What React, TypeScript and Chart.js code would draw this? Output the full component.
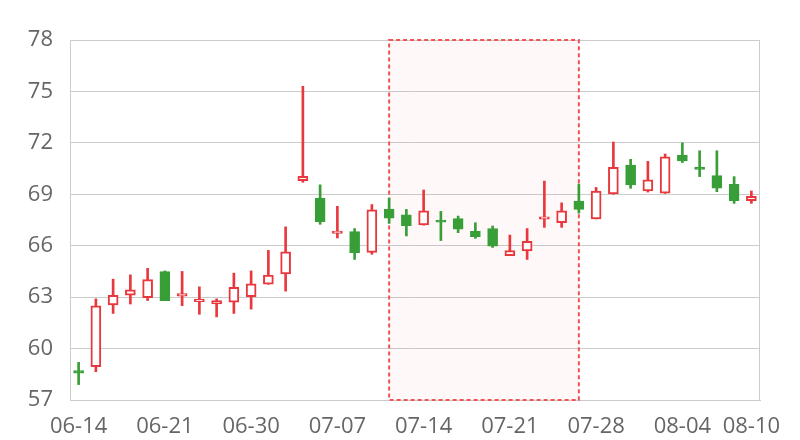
import React, { useEffect, useRef } from "react";
import { Chart, registerables } from "chart.js";

Chart.register(...registerables);

const dates = [
  "06-14", "06-17", "06-18", "06-19", "06-20", "06-21", "06-24", "06-25", "06-26", "06-27",
  "06-30", "07-01", "07-02", "07-03", "07-04", "07-07", "07-08", "07-09", "07-10", "07-11",
  "07-14", "07-15", "07-16", "07-17", "07-18", "07-21", "07-22", "07-23", "07-24", "07-25",
  "07-28", "07-29", "07-30", "07-31", "08-01", "08-04", "08-05", "08-06", "08-07", "08-10",
];
const shownTickLabels = ["06-14", "06-21", "06-30", "07-07", "07-14", "07-21", "07-28", "08-04", "08-10"];

const openValues = [
  58.72, 58.95, 62.55, 63.12, 62.97, 64.49, 63.05, 62.74, 62.6, 62.7,
  63.03, 63.75, 64.35, 69.8, 68.77, 66.72, 66.82, 65.61, 68.12, 67.8,
  67.21, 67.49, 67.58, 66.84, 67.0, 65.42, 65.69, 67.55, 67.34, 68.61,
  67.56, 69.02, 70.71, 69.19, 69.06, 71.29, 70.59, 70.09, 69.58, 68.63,
];
const closeValues = [
  58.56, 62.5, 63.1, 63.42, 64.02, 62.8, 63.21, 62.88, 62.8, 63.57,
  63.77, 64.29, 65.65, 70.05, 67.4, 66.86, 65.6, 68.1, 67.6, 67.17,
  68.04, 67.38, 66.96, 66.53, 65.98, 65.71, 66.26, 67.69, 68.04, 68.12,
  69.19, 70.57, 69.54, 69.85, 71.19, 70.94, 70.45, 69.35, 68.63, 68.88,
];
const lowValues = [
  57.9, 58.65, 62.05, 62.6, 62.8, 62.8, 62.5, 62.0, 61.85, 62.05,
  62.3, 63.75, 63.35, 69.7, 67.25, 66.45, 65.2, 65.5, 67.3, 66.57,
  67.2, 66.3, 66.76, 66.43, 65.9, 65.42, 65.2, 67.07, 67.07, 67.9,
  67.56, 69.0, 69.35, 69.13, 69.05, 70.85, 70.03, 69.15, 68.47, 68.47,
];
const highValues = [
  59.2, 62.9, 64.05, 64.3, 64.68, 64.53, 64.5, 63.6, 62.9, 64.4,
  64.53, 65.73, 67.1, 75.3, 69.55, 68.3, 67.0, 68.4, 68.77, 68.12,
  69.25, 68.0, 67.73, 67.34, 67.15, 66.62, 67.0, 69.77, 68.5, 69.6,
  69.4, 72.05, 71.04, 70.92, 71.35, 72.0, 71.54, 71.54, 70.03, 69.19,
];
const markAreaStart = "07-10";
const markAreaEnd = "07-25";

const UP = "#e8383d";
const DOWN = "#389e38";

export default function App() {
  const ref = useRef<HTMLCanvasElement | null>(null);
  useEffect(() => {
    document.body.style.margin = "0";
    const isUp = openValues.map((o, i) => closeValues[i] >= o);
    const markPlugin = {
      id: "markArea",
      beforeDatasetsDraw(chart: any) {
        const { ctx, chartArea, scales } = chart;
        const x0 = scales.x.getPixelForValue(dates.indexOf(markAreaStart));
        const x1 = scales.x.getPixelForValue(dates.indexOf(markAreaEnd));
        ctx.save();
        ctx.fillStyle = "rgba(240,60,60,0.035)";
        ctx.fillRect(x0, chartArea.top, x1 - x0, chartArea.bottom - chartArea.top);
        ctx.setLineDash([4, 3]);
        ctx.lineWidth = 2;
        ctx.strokeStyle = "#ef5555";
        ctx.strokeRect(x0, chartArea.top, x1 - x0, chartArea.bottom - chartArea.top);
        ctx.restore();
      },
      afterDraw(chart: any) {
        const { ctx, chartArea } = chart;
        ctx.save();
        ctx.strokeStyle = "#cccccc";
        ctx.lineWidth = 1;
        ctx.beginPath();
        ctx.moveTo(Math.round(chartArea.right) - 0.5, chartArea.top);
        ctx.lineTo(Math.round(chartArea.right) - 0.5, chartArea.bottom);
        ctx.stroke();
        ctx.restore();
      },
    };
    const font = { family: "'Open Sans', 'Noto Sans', sans-serif", size: 22 };
    const chart = new Chart(ref.current as HTMLCanvasElement, {
      type: "bar",
      data: {
        labels: dates,
        datasets: [
          {
            label: "body",
            data: openValues.map((o, i) => [o, closeValues[i]]) as any,
            backgroundColor: isUp.map((u) => (u ? "#ffffff" : DOWN)),
            borderColor: isUp.map((u) => (u ? UP : DOWN)),
            borderWidth: 2,
            borderSkipped: false,
            barThickness: 10,
            grouped: false,
            order: 0,
          } as any,
          {
            label: "wick",
            data: lowValues.map((l, i) => [l, highValues[i]]) as any,
            backgroundColor: isUp.map((u) => (u ? UP : DOWN)),
            borderWidth: 0,
            barThickness: 2,
            grouped: false,
            order: 1,
          } as any,
        ],
      },
      options: {
        responsive: false,
        animation: false,
        layout: { padding: { top: 40, right: 40, left: 0, bottom: 0 } },
        plugins: { legend: { display: false }, tooltip: { enabled: false } },
        scales: {
          x: {
            offset: true,
            grid: { display: false, drawTicks: false },
            border: { display: true, color: "#cccccc" },
            ticks: {
              autoSkip: false,
              maxRotation: 0,
              padding: 14,
              color: "#666666",
              font,
              callback: function (this: any, _v: any, i: number) {
                const l = dates[i];
                return shownTickLabels.includes(l) ? l : null;
              },
            },
            afterFit: (s: any) => {
              s.height = 40;
            },
          },
          y: {
            min: 57,
            max: 78,
            grid: { color: "#cccccc", drawTicks: false },
            border: { display: true, color: "#cccccc" },
            ticks: { stepSize: 3, padding: 17, color: "#666666", font },
            afterFit: (s: any) => {
              s.width = 70;
            },
          },
        },
      },
      plugins: [markPlugin],
    });
    return () => chart.destroy();
  }, []);
  return (
    <div style={{ position: "absolute", left: 0, top: 0, width: 800, height: 440 }}>
      <canvas ref={ref} width={800} height={440} />
    </div>
  );
}
